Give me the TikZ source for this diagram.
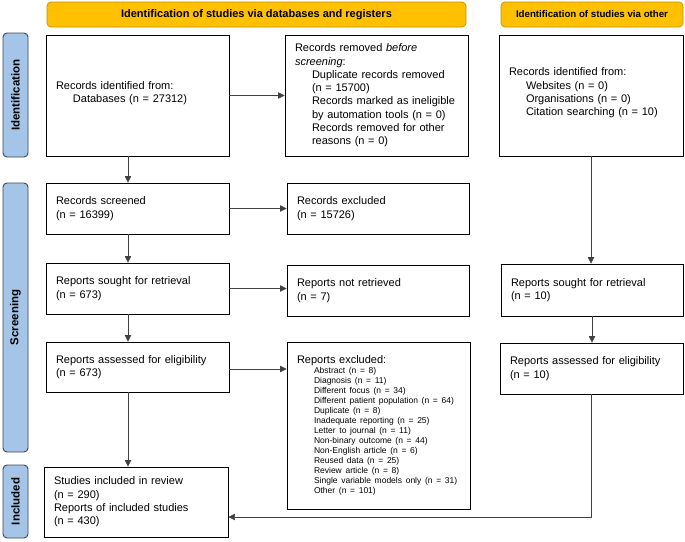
\documentclass[tikz,border=0pt]{standalone}
\usepackage{fontspec}
\setmainfont{Liberation Sans}
\usetikzlibrary{arrows.meta}
\definecolor{hdrfill}{HTML}{FFC000}
\definecolor{hdrdraw}{HTML}{C29200}
\definecolor{tabfill}{HTML}{A4C4E8}
\definecolor{tabdraw}{HTML}{3E4756}
\begin{document}
\begin{tikzpicture}[x=1pt, y=-1pt,
    box/.style={rectangle, draw, line width=0.9pt, inner xsep=10pt, inner ysep=2pt, align=left, font=\fontsize{11}{13.3}\selectfont},
    header/.style={rectangle, draw=hdrdraw, fill=hdrfill, rounded corners=4pt, line width=0.7pt, minimum height=25pt},
    phase/.style={rectangle, draw=tabdraw, fill=tabfill, rounded corners=4pt, line width=0.9pt, rotate=90, minimum height=25pt, font=\fontsize{11.5}{13}\selectfont\bfseries},
    arrow/.style={-{Triangle[length=6.5pt, width=6.5pt]}, line width=0.7pt, draw=black!75}
]
    \useasboundingbox (0,0) rectangle (685,541);

    % Headers
    \node[header, minimum width=419pt, font=\fontsize{11}{13}\selectfont\bfseries] (hdb) at (256.5,14.5) {Identification of studies via databases and registers};
    \node[header, minimum width=182pt, font=\fontsize{9.7}{12}\selectfont\bfseries] (hoth) at (592,14.5) {Identification of studies via other};

    % Phase tabs
    \node[phase, minimum width=124pt] (tid) at (15.5,95) {Identification};
    \node[phase, minimum width=269pt] (tscr) at (15.5,317.5) {Screening};
    \node[phase, minimum width=73pt] (tinc) at (15.5,501.5) {Included};

    % Databases and registers
    \node[box, text width=163pt, minimum height=121pt] (idrec) at (137.5,95.5) {Records identified from:\\\hspace*{17pt}Databases (n = 27312)\\[-6pt]\mbox{}};
    \node[box, text width=163pt, minimum height=121pt] (removed) at (376.5,95.5) {Records removed \textit{before}\\\textit{screening}:\\\hspace*{17pt}Duplicate records removed\\\hspace*{17pt}(n = 15700)\\\hspace*{17pt}Records marked as ineligible\\\hspace*{17pt}by automation tools (n = 0)\\\hspace*{17pt}Records removed for other\\\hspace*{17pt}reasons (n = 0)};
    \node[box, text width=163pt, minimum height=51pt] (screened) at (137.5,208.5) {Records screened\\(n = 16399)};
    \node[box, text width=162pt, minimum height=51pt] (excluded) at (378,208.5) {Records excluded\\(n = 15726)};
    \node[box, text width=163pt, minimum height=51pt] (sought) at (137.5,288.5) {Reports sought for retrieval\\(n = 673)};
    \node[box, text width=162pt, minimum height=51pt] (notret) at (378,290.5) {Reports not retrieved\\(n = 7)};
    \node[box, text width=163pt, minimum height=50pt] (assessed) at (137.5,367) {Reports assessed for eligibility\\(n = 673)};
    \node[box, text width=163pt, minimum height=167pt] (repexcl) at (378.5,425.5) {Reports excluded:\par
        \fontsize{8.5}{10}\selectfont\leftskip=17pt
        Abstract (n = 8)\\Diagnosis (n = 11)\\Different focus (n = 34)\\Different patient population (n = 64)\\Duplicate (n = 8)\\Inadequate reporting (n = 25)\\Letter to journal (n = 11)\\Non-binary outcome (n = 44)\\Non-English article (n = 6)\\Reused data (n = 25)\\Review article (n = 8)\\Single variable models only (n = 31)\\Other (n = 101)\par};
    \node[box, text width=164pt, minimum height=70pt] (included) at (136,502) {Studies included in review\\(n = 290)\\Reports of included studies\\(n = 430)};

    % Other methods
    \node[box, text width=164pt, minimum height=121pt] (othrec) at (591,95.5) {Records identified from:\\\hspace*{17pt}Websites (n = 0)\\\hspace*{17pt}Organisations (n = 0)\\\hspace*{17pt}Citation searching (n = 10)\\[-6pt]\mbox{}};
    \node[box, text width=162pt, minimum height=52pt] (othsought) at (592,290) {Reports sought for retrieval\\(n = 10)};
    \node[box, text width=163pt, minimum height=51pt] (othassessed) at (591.5,368.5) {Reports assessed for eligibility\\(n = 10)};

    % Arrows
    \coordinate (lc) at (128,0);
    \draw[arrow] (idrec) -- (removed);
    \draw[arrow] (idrec.south -| lc) -- (screened.north -| lc);
    \draw[arrow] (screened) -- (excluded);
    \draw[arrow] (screened.south -| lc) -- (sought.north -| lc);
    \draw[arrow] (sought.east) -- (sought.east -| notret.west);
    \draw[arrow] (sought.south -| lc) -- (assessed.north -| lc);
    \draw[arrow] ([yshift=-2pt]assessed.east) -- ([yshift=-2pt]assessed.east -| repexcl.west);
    \draw[arrow] (assessed.south -| lc) -- (included.north -| lc);
    \draw[arrow] (othrec.south) -- (othrec.south |- othsought.north);
    \draw[arrow] (othsought.south) -- (othsought.south |- othassessed.north);
    \draw[arrow] (othassessed.south) |- ([yshift=-15pt]included.east);
\end{tikzpicture}
\end{document}
